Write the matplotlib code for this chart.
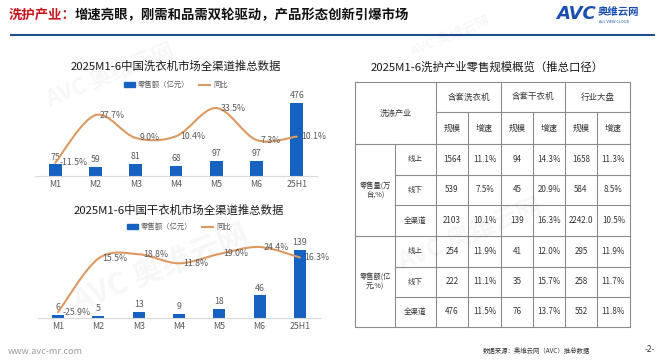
import numpy as np
import matplotlib
matplotlib.use("Agg")
import matplotlib.pyplot as plt
from matplotlib.path import Path
from matplotlib.patches import PathPatch, Patch
from matplotlib.lines import Line2D

plt.rcParams['font.family'] = ['Noto Sans CJK SC', 'DejaVu Sans']

W, H = 665, 364

# --- data -------------------------------------------------------------------
months = ['M1', 'M2', 'M3', 'M4', 'M5', 'M6', '25H1']
washer_sales = [75, 59, 81, 68, 97, 97, 476]
washer_yoy = [-11.5, 27.7, 9.0, 10.4, 33.5, 7.3, 10.1]
dryer_sales = [6, 5, 13, 9, 18, 46, 139]
dryer_yoy = [-25.9, 15.5, 18.8, 11.8, 19.0, 24.4, 16.3]

table_groups = ['含套洗衣机', '含套干衣机', '行业大盘']
table_sub = ['规模', '增速']
row_groups = ['零售量(万\n台,%)', '零售额(亿\n元,%)']
channels = ['线上', '线下', '全渠道']
volume_rows = [['1564', '11.1%', '94', '14.3%', '1658', '11.3%'],
               ['539', '7.5%', '45', '20.9%', '584', '8.5%'],
               ['2103', '10.1%', '139', '16.3%', '2242.0', '10.5%']]
value_rows = [['254', '11.9%', '41', '12.0%', '295', '11.9%'],
              ['222', '11.1%', '35', '15.7%', '258', '11.7%'],
              ['476', '11.5%', '76', '13.7%', '552', '11.8%']]

BLUE = '#1762c0'
ORANGE = '#dc9a62'
GRAY = '#595959'
LINE = '#8c8c8c'


def px_rect(x0, y0, x1, y1):
    """pixel box (top-left origin) -> figure fraction rect"""
    return [x0 / W, 1 - y1 / H, (x1 - x0) / W, (y1 - y0) / H]


def smooth_path(x, y):
    # Catmull-Rom -> cubic Bezier, like a spreadsheet "smoothed line"
    pts = np.column_stack([x, y]).astype(float)
    ext = np.vstack([pts[0], pts, pts[-1]])
    verts, codes = [pts[0]], [Path.MOVETO]
    for i in range(len(pts) - 1):
        p0, p1, p2, p3 = ext[i], ext[i + 1], ext[i + 2], ext[i + 3]
        verts += [p1 + (p2 - p0) / 6, p2 - (p3 - p1) / 6, p2]
        codes += [Path.CURVE4] * 3
    return Path(verts, codes)


fig = plt.figure(figsize=(W / 100, H / 100), dpi=100, facecolor='white')

# background layer in pixel coordinates
bg = fig.add_axes([0, 0, 1, 1])
bg.set_xlim(0, W)
bg.set_ylim(H, 0)
bg.axis('off')

# faint watermarks
for (wx, wy, s) in [(110, 75, 16), (160, 268, 22), (470, 235, 18), (450, 36, 10)]:
    bg.text(wx, wy, 'AVC 奥维云网', fontsize=s, fontweight='bold', color='#000000',
            alpha=0.035, rotation=22, ha='center', va='center', style='italic')

# header
bg.text(9, 15, '洗护产业：', fontsize=9.6, fontweight='bold', color='#c8161d',
        ha='left', va='center')
bg.text(75, 15, '增速亮眼，刚需和品需双轮驱动，产品形态创新引爆市场', fontsize=9.6,
        fontweight='bold', color='#111111', ha='left', va='center')
bg.plot([10, 655], [35, 35], color='#1f4e8c', lw=1.5, solid_capstyle='butt')
bg.text(556, 14, 'AVC', fontsize=13, fontweight='bold', style='italic',
        color='#1a4fb0', ha='left', va='center', family='DejaVu Sans')
bg.text(598, 12, '奥维云网', fontsize=7.5, fontweight='bold', color='#1a4fb0',
        ha='left', va='center')
bg.text(599, 22, 'ALL VIEW CLOUD', fontsize=2.8, color='#1a4fb0',
        ha='left', va='center')

# footer
bg.text(8, 351, 'www.avc-mr.com', fontsize=6.5, color='#9a9a9a', ha='left', va='center')
bg.text(590, 351, '数据来源：奥维云网（AVC）推总数据', fontsize=4.6, color='#333333',
        ha='right', va='center')
bg.text(650, 349, '-2-', fontsize=6, color='#333333', ha='center', va='center')


def combo(box, sales, yoy, bar_top, pct_lim, title, title_y, legend_y, bar_w):
    ax = fig.add_axes(px_rect(*box))
    ax.patch.set_alpha(0)
    x = np.arange(len(months))
    ax.bar(x, sales, width=bar_w, color=BLUE, zorder=2)
    ax.set_xlim(-0.5, len(months) - 0.5)
    ax.set_ylim(0, bar_top)
    for xi, v in zip(x, sales):
        ax.annotate(f'{v}', (xi, v), xytext=(0, 2), textcoords='offset points',
                    ha='center', va='bottom', fontsize=6.3, color=GRAY,
                    annotation_clip=False)
    ax.set_xticks(x, months)
    ax.tick_params(axis='x', length=0, labelsize=6.3, labelcolor=GRAY, pad=3)
    ax.set_yticks([])
    for s in ('top', 'left', 'right'):
        ax.spines[s].set_visible(False)
    ax.spines['bottom'].set_color('#d9d9d9')
    ax.spines['bottom'].set_linewidth(0.8)

    ax2 = ax.twinx()
    ax2.set_ylim(*pct_lim)
    ax2.axis('off')
    ax2.add_patch(PathPatch(smooth_path(x, yoy), fill=False, ec=ORANGE, lw=1.5,
                            capstyle='round', clip_on=False))
    for xi, v in zip(x, yoy):
        ax2.annotate(f'{v:.1f}%', (xi, v), xytext=(3, 0), textcoords='offset points',
                     ha='left', va='center', fontsize=6.3, color=GRAY,
                     annotation_clip=False)

    cx = (box[0] + box[2]) / 2
    bg.text(cx, title_y, title, fontsize=8.2, color='#1a1a1a',
            ha='center', va='center')
    fig.legend(handles=[Patch(color=BLUE), Line2D([], [], color=ORANGE, lw=1.5)],
               labels=['零售额（亿元）', '同比'], loc='center',
               bbox_to_anchor=(cx / W, 1 - legend_y / H), ncol=2, frameon=False,
               fontsize=5.3, handlelength=1.5, handleheight=0.6,
               columnspacing=1.3, handletextpad=0.4, labelcolor=GRAY,
               borderpad=0, borderaxespad=0)
    return ax


combo((35, 95, 317, 176), washer_sales, washer_yoy, 528, (-22.2, 44.2),
      '2025M1-6中国洗衣机市场全渠道推总数据', 66, 85, 0.32)
combo((38, 243, 320, 318), dryer_sales, dryer_yoy, 153, (-30.5, 27.5),
      '2025M1-6中国干衣机市场全渠道推总数据', 210, 227, 0.3)

# --- table ------------------------------------------------------------------
col_x = [355, 395, 436, 468, 501, 533, 565, 597, 630]
row_y = [82, 112, 144, 175, 205, 236, 267, 297, 327]
TXT = '#333333'
FS = 5.8

bg.text(487, 67, '2025M1-6洗护产业零售规模概览（推总口径）', fontsize=8.2,
        color='#1a1a1a', ha='center', va='center')

lk = dict(color=LINE, lw=0.8, solid_capstyle='projecting')
# outer border
bg.plot([col_x[0], col_x[-1], col_x[-1], col_x[0], col_x[0]],
        [row_y[0], row_y[0], row_y[-1], row_y[-1], row_y[0]], **lk)
# horizontals
bg.plot([col_x[2], col_x[-1]], [row_y[1]] * 2, **lk)
for i in (2, 5):
    bg.plot([col_x[0], col_x[-1]], [row_y[i]] * 2, **lk)
for i in (3, 4, 6, 7):
    bg.plot([col_x[1], col_x[-1]], [row_y[i]] * 2, **lk)
# verticals
bg.plot([col_x[1]] * 2, [row_y[2], row_y[-1]], **lk)
for j in (2, 4, 6):
    bg.plot([col_x[j]] * 2, [row_y[0], row_y[-1]], **lk)
for j in (3, 5, 7):
    bg.plot([col_x[j]] * 2, [row_y[1], row_y[-1]], **lk)


def mid(a, i, n=1):
    return (a[i] + a[i + n]) / 2


bg.text(mid(col_x, 0, 2), mid(row_y, 0, 2), '洗涤产业', fontsize=FS, color=TXT,
        ha='center', va='center')
for g, name in enumerate(table_groups):
    bg.text(mid(col_x, 2 + 2 * g, 2), mid(row_y, 0), name, fontsize=FS + 0.3,
            color=TXT, ha='center', va='center')
    for k, sub in enumerate(table_sub):
        bg.text(mid(col_x, 2 + 2 * g + k), mid(row_y, 1), sub, fontsize=FS + 0.3,
                color=TXT, ha='center', va='center')

for b, (label, rows) in enumerate(zip(row_groups, [volume_rows, value_rows])):
    r0 = 2 + 3 * b
    bg.text(mid(col_x, 0), mid(row_y, r0, 3), label, fontsize=5.2, color=TXT,
            ha='center', va='center', linespacing=1.2)
    for r, (ch, vals) in enumerate(zip(channels, rows)):
        yy = mid(row_y, r0 + r)
        bg.text(mid(col_x, 1), yy, ch, fontsize=5.4, color=TXT,
                ha='center', va='center')
        for c, v in enumerate(vals):
            bg.text(mid(col_x, 2 + c), yy, v, fontsize=FS, color=TXT,
                    ha='center', va='center')

fig.savefig('out.png', dpi=100, facecolor='white')
